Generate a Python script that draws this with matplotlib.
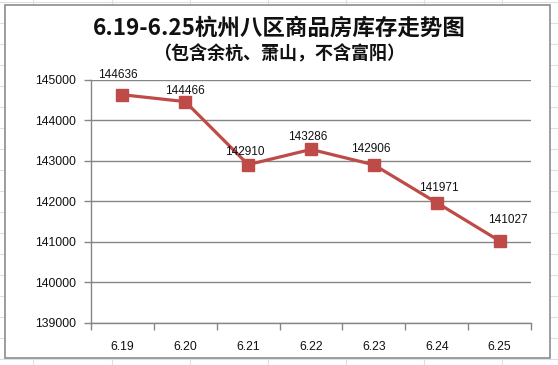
import matplotlib.pyplot as plt
from matplotlib.patches import Rectangle
from matplotlib.lines import Line2D

plt.rcParams['font.family'] = ['Noto Sans CJK SC', 'DejaVu Sans']

# 数据
dates = ['6.19', '6.20', '6.21', '6.22', '6.23', '6.24', '6.25']
stock = [144636, 144466, 142910, 143286, 142906, 141971, 141027]
# 数据标签偏移 (像素)
label_dx = [-5, 0, -3, -3, -3, 2, 8]
label_dy = [20, 11, 13, 12, 16, 15, 21]

fig = plt.figure(figsize=(5.58, 3.65), dpi=100)

# Excel 表格背景线
for x in [33, 112, 190, 268, 346, 424, 502]:
    fig.add_artist(Line2D([x / 558, x / 558], [0, 1], color='#dde0e3', lw=0.8, zorder=-3))
for y in range(2, 365, 21):
    fig.add_artist(Line2D([0, 1], [1 - y / 365, 1 - y / 365], color='#dde0e3', lw=0.8, zorder=-3))

# 图表边框
fig.add_artist(Rectangle((5 / 558, 1 - 358 / 365), 545 / 558, 353 / 365,
                         transform=fig.transFigure, facecolor='white',
                         edgecolor='#8c8c8c', lw=1.2, zorder=-2))

ax = fig.add_axes([91 / 558, 42 / 365, 440 / 558, 243 / 365])
ax.patch.set_alpha(0)
x = list(range(len(dates)))
ax.plot(x, stock, color='#be4b48', lw=2.3, marker='s', markersize=8.5,
        markerfacecolor='#be4b48', markeredgecolor='#be4b48', zorder=3)

for xi, v, dx, dy in zip(x, stock, label_dx, label_dy):
    ax.annotate(str(v), (xi, v), xytext=(dx, dy), textcoords='offset pixels',
                ha='center', va='center', fontsize=8.5, color='#111111',
                family=['Liberation Sans', 'DejaVu Sans'], zorder=4)

ax.set_xlim(-0.5, len(dates) - 0.5)
ax.set_ylim(139000, 145000)
ax.set_yticks(range(139000, 145001, 1000))
ax.set_yticklabels([str(t) for t in range(139000, 145001, 1000)],
                   family=['Liberation Sans', 'DejaVu Sans'], fontsize=8.8, color='#111111')
ax.set_xticks(x)
ax.set_xticklabels(dates, family=['Liberation Sans', 'DejaVu Sans'], fontsize=8.8, color='#111111')
ax.set_xticks([i - 0.5 for i in range(len(dates) + 1)], minor=True)
ax.tick_params(axis='x', which='major', length=0, pad=13)
ax.tick_params(axis='x', which='minor', length=5, color='#868686', width=1)
ax.tick_params(axis='y', length=5, color='#868686', width=1, pad=6)
ax.grid(axis='y', color='#868686', lw=1)
ax.set_axisbelow(True)
for s in ['top', 'right']:
    ax.spines[s].set_visible(False)
for s in ['left', 'bottom']:
    ax.spines[s].set_color('#868686')
    ax.spines[s].set_linewidth(1)

fig.text(0.5, 1 - 28 / 365, '6.19-6.25杭州八区商品房库存走势图', ha='center', va='center',
         fontsize=16.2, fontweight='bold', color='#111111')
fig.text(0.5, 1 - 54 / 365, '（包含余杭、萧山，不含富阳）', ha='center', va='center',
         fontsize=13, fontweight='bold', color='#111111')

fig.savefig('out.png', dpi=100)
